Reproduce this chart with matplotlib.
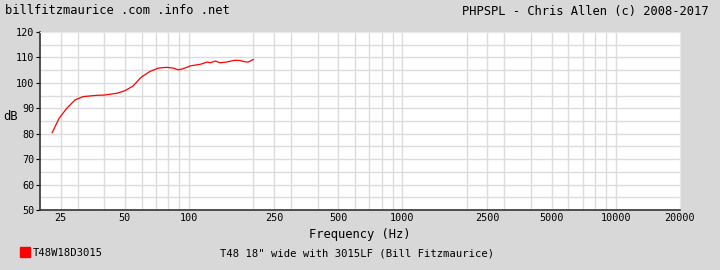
import numpy as np
import matplotlib.pyplot as plt

# frequency response
freq = [22.8, 24.6, 26.7, 29.2, 31.9, 36.9, 40.1, 45.8, 50.0, 54.7, 58.9, 60.0,
        65.6, 71.7, 78.5, 84.3, 89.0, 94.7, 101.6, 112.9, 121.7, 125.5, 132.5,
        139.7, 150.0, 164.0, 172.6, 185.0, 189.5, 200.0]
spl = [80.4, 86.1, 90.0, 93.3, 94.6, 95.1, 95.2, 95.9, 96.9, 98.8, 101.8, 102.4,
       104.5, 105.8, 106.1, 105.8, 105.1, 105.7, 106.7, 107.3, 108.2, 107.9, 108.6,
       107.9, 108.2, 108.9, 108.8, 108.2, 108.2, 109.2]

xticks = [25, 50, 100, 250, 500, 1000, 2500, 5000, 10000, 20000]
xgrid = [25, 30, 40, 50, 60, 70, 80, 90, 100, 200, 250, 300, 400, 500, 600, 700,
         800, 900, 1000, 2000, 2500, 3000, 4000, 5000, 6000, 7000, 8000, 9000,
         10000]
yticks = list(range(50, 121, 10))

plt.rcParams['font.family'] = 'DejaVu Sans Mono'
bg = '#d8d8d8'

fig = plt.figure(figsize=(7.2, 2.7), dpi=100, facecolor=bg)
ax = fig.add_axes([40/720, 1 - 210/270, 640/720, 178/270])
ax.set_facecolor('white')

for f in xgrid:
    ax.axvline(f, color='#dcdcdc', lw=1, zorder=0)
for y in range(55, 120, 5):
    ax.axhline(y, color='#dcdcdc', lw=1, zorder=0)

ax.plot(freq, spl, color='red', lw=0.9)

ax.set_xscale('log')
ax.set_xlim(20, 20000)
ax.set_ylim(50, 120)
ax.set_xticks(xticks)
ax.set_xticklabels([str(t) for t in xticks], fontsize=7.3)
ax.minorticks_off()
ax.set_yticks(yticks)
ax.set_yticklabels([str(t) for t in yticks], fontsize=7.3)
ax.tick_params(axis='x', length=0, pad=2)
ax.tick_params(axis='y', length=3, pad=1, width=0.8)

for s in ['top', 'right']:
    ax.spines[s].set_color('#e8e8e8')
for s in ['left', 'bottom']:
    ax.spines[s].set_color('#333333')
    ax.spines[s].set_linewidth(1.2)

ax.set_xlabel('Frequency (Hz)', fontsize=8.7, labelpad=4)
fig.text(3/720, 1 - 117/270, 'dB', fontsize=8.7, va='center', ha='left')

fig.text(5/720, 1 - 11/270, 'billfitzmaurice .com .info .net', fontsize=8.7, va='center')
fig.text(708/720, 1 - 11/270, 'PHPSPL - Chris Allen (c) 2008-2017', fontsize=8.7,
         va='center', ha='right')

fig.patches.append(plt.Rectangle((20/720, 1 - 257/270), 10/720, 10/270,
                                 transform=fig.transFigure, color='red'))
fig.text(33/720, 1 - 253/270, 'T48W18D3015', fontsize=7.6, va='center')
fig.text(220/720, 1 - 253/270, 'T48 18" wide with 3015LF (Bill Fitzmaurice)',
         fontsize=7.6, va='center')

fig.savefig('out.png', dpi=100, facecolor=bg)
